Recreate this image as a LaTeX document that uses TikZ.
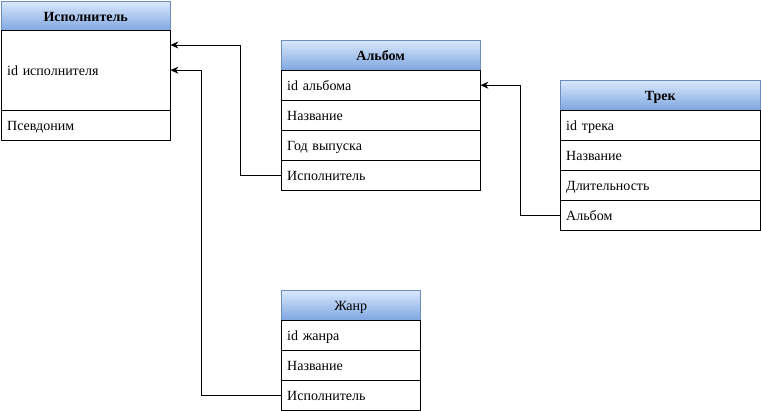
\documentclass[tikz,border=0pt]{standalone}
\usepackage{fontspec}
\setmainfont{Liberation Serif}
\usetikzlibrary{arrows.meta}
\definecolor{hdtop}{HTML}{DAE8FC}
\definecolor{hdbot}{HTML}{7EA6E0}
\definecolor{hdline}{HTML}{6C8EBF}
\tikzset{
  x=1pt, y=-1pt,
  txt/.style={font=\fontsize{14}{16}\selectfont, text height=12pt, text depth=1pt},
  hdr/.style={draw=hdline, top color=hdtop, bottom color=hdbot, minimum width=#1, minimum height=30, inner sep=0, anchor=north west, txt, font=\fontsize{14}{16}\selectfont\bfseries},
  hdrn/.style={hdr=#1, font=\fontsize{14}{16}\selectfont\mdseries},
  row/.style={draw=black, fill=white, minimum width=#1, text width=#1-12, inner xsep=6, inner ysep=0, minimum height=30, align=left, anchor=north west, txt},
  fk/.style={draw=black, line width=0.9pt, -{Stealth[length=8pt,width=7pt]}},
}
\begin{document}
\begin{tikzpicture}
\useasboundingbox (0,0) rectangle (761,411);
% Исполнитель
\node[hdr=169] (isp) at (1,1) {Исполнитель};
\node[row=169, minimum height=80] (isp-id) at (1,30) {id исполнителя};
\node[row=169] (isp-ps) at (1,110) {Псевдоним};
\coordinate (isp-in1) at ([yshift=-15]isp-id.north east);
% Альбом
\node[hdr=199] (alb) at (281,40) {Альбом};
\node[row=199] (alb-id) at (281,70) {id альбома};
\node[row=199] (alb-name) at (281,100) {Название};
\node[row=199] (alb-year) at (281,130) {Год выпуска};
\node[row=199] (alb-isp) at (281,160) {Исполнитель};
% Трек
\node[hdr=200] (trk) at (560,80) {Трек};
\node[row=200] (trk-id) at (560,110) {id трека};
\node[row=200] (trk-name) at (560,140) {Название};
\node[row=200] (trk-len) at (560,170) {Длительность};
\node[row=200] (trk-alb) at (560,200) {Альбом};
% Жанр
\node[hdrn=139] (gen) at (281,290) {Жанр};
\node[row=139] (gen-id) at (281,320) {id жанра};
\node[row=139] (gen-name) at (281,350) {Название};
\node[row=139] (gen-isp) at (281,380) {Исполнитель};
% connectors
\draw[fk] (alb-isp.west) -- ++(-41,0) |- (isp-in1);
\draw[fk] (gen-isp.west) -- ++(-80,0) |- (isp-id.east);
\draw[fk] (trk-alb.west) -- ++(-40,0) |- (alb-id.east);
\end{tikzpicture}
\end{document}
